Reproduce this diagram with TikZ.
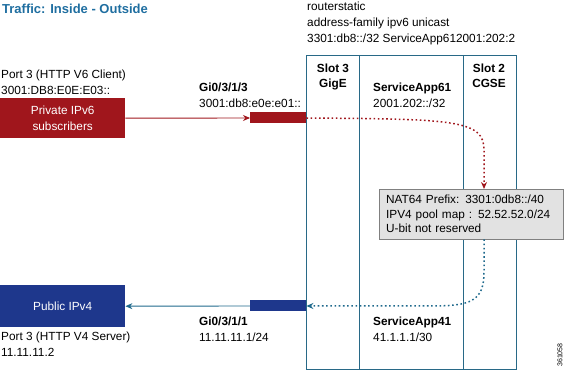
\documentclass[tikz,border=0pt]{standalone}
\usepackage{fontspec}
\setmainfont{Liberation Sans}
\usetikzlibrary{arrows.meta}
\definecolor{titleblue}{RGB}{31,110,160}
\definecolor{slotline}{RGB}{40,105,135}
\definecolor{privred}{RGB}{160,22,28}
\definecolor{pubblue}{RGB}{30,55,140}
\definecolor{arrowteal}{RGB}{30,105,140}
\definecolor{natgray}{RGB}{226,226,226}
\tikzset{
  txt/.style={anchor=north west, inner sep=0pt, align=left, font=\fontsize{11.8}{16}\selectfont},
  hostbox/.style={anchor=north west, minimum width=125, minimum height=40, inner sep=0pt, text=white, align=center, font=\fontsize{11.8}{16}\selectfont},
  portbar/.style={anchor=west, minimum width=56, minimum height=11, inner sep=0pt},
  flow/.style={line width=1.5pt, dash pattern=on 1.6pt off 2.6pt},
  slot/.style={slotline, line width=0.9pt}
}
\begin{document}
\begin{tikzpicture}[x=1pt,y=-1pt]
\useasboundingbox (0,0) rectangle (565,371);
 % heading and route config
 \node[txt, font=\fontsize{13}{15}\selectfont\bfseries, text=titleblue] (title) at (2,4) {Traffic: Inside - Outside};
 \node[txt] (route) at (307,2) {routerstatic\\address-family ipv6 unicast\\3301:db8::/32 ServiceApp612001:202:2};
 % chassis with slots
 \draw[slot] (306,55) rectangle (516,369);
 \draw[slot] (359,55) -- (359,369);
 \draw[slot] (463,55) -- (463,369);
 \node[txt, anchor=north, align=center, font=\fontsize{11.8}{15}\selectfont\bfseries] (slot3) at (333,64) {Slot 3\\GigE};
 \node[txt, anchor=north, align=center, font=\fontsize{11.8}{15}\selectfont\bfseries] (slot2) at (489,64) {Slot 2\\CGSE};
 \node[txt] (sa61) at (373,83) {\textbf{ServiceApp61}\\2001.202::/32};
 \node[txt] (sa41) at (373,317) {\textbf{ServiceApp41}\\41.1.1.1/30};
 % inside (IPv6)
 \node[txt] (v6port) at (1,70) {Port 3 (HTTP V6 Client)\\3001:DB8:E0E:E03::};
 \node[hostbox, fill=privred] (priv) at (0,98) {Private IPv6\\subscribers};
 \node[portbar, fill=privred] (bar6) at (250,118) {};
 \node[txt] (gi3) at (199,83) {\textbf{Gi0/3/1/3}\\3001:db8:e0e:e01::};
 \draw[privred, line width=0.9pt, -{Stealth[length=7pt,width=6pt]}] (priv.east) -- (bar6.west);
 % NAT64 on the CGSE
 \node[draw=gray, fill=natgray, anchor=north west, minimum width=184, minimum height=50, text width=170, inner xsep=7pt, align=left, font=\fontsize{11.8}{14.5}\selectfont] (nat) at (379,189) {NAT64 Prefix: 3301:0db8::/40\\IPV4 pool map : 52.52.52.0/24\\U-bit not reserved};
 \coordinate (drop6) at (484,150);
 \coordinate (rise4) at (484,272);
 \draw[flow, privred, -{Stealth[length=7pt,width=6pt]}] (bar6.east) .. controls (455,119) and (484,120) .. (drop6) -- (drop6 |- nat.north);
 % outside (IPv4)
 \node[hostbox, fill=pubblue, minimum height=42] (pub) at (0,285) {Public IPv4};
 \node[portbar, fill=pubblue] (bar4) at (250,306) {};
 \node[txt] (gi1) at (199,317) {\textbf{Gi0/3/1/1}\\11.11.11.1/24};
 \node[txt] (v4port) at (1,332) {Port 3 (HTTP V4 Server)\\11.11.11.2};
 \draw[flow, arrowteal, -{Stealth[length=7pt,width=6pt]}] (rise4 |- nat.south) -- (rise4) .. controls (484,302) and (470,306) .. (430,306) -- (bar4.east);
 \draw[arrowteal, line width=0.9pt, -{Stealth[length=7pt,width=6pt]}] (bar4.west) -- (pub.east);
 \node[rotate=90, inner sep=0pt, font=\fontsize{7}{8}\selectfont] (figid) at (560,355) {361058};
\end{tikzpicture}
\end{document}
